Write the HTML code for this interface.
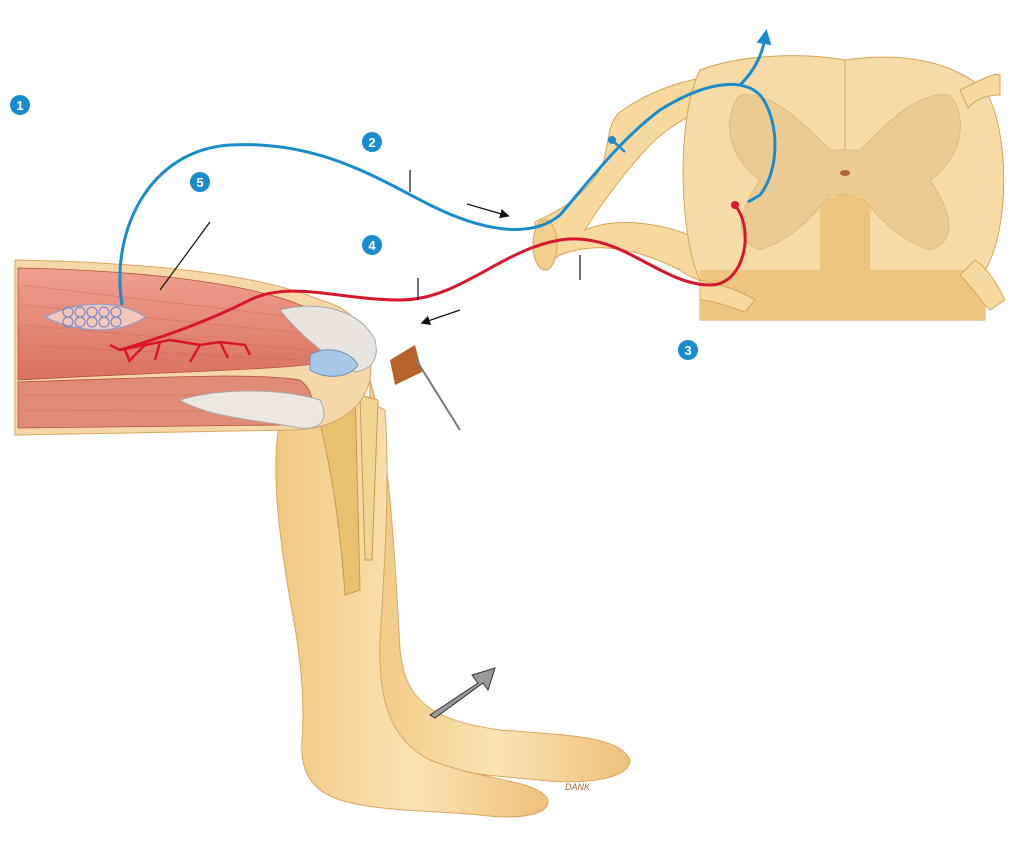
<!DOCTYPE html>
<html><head><meta charset="utf-8"><style>
html,body{margin:0;padding:0;background:#fff;}
svg{display:block;}
text{font-family:"Liberation Sans",sans-serif;}
</style></head><body>
<svg width="1024" height="845" viewBox="0 0 1024 845" xmlns="http://www.w3.org/2000/svg">
<defs>
<linearGradient id="leg" x1="0" x2="1" y1="0" y2="0">
<stop offset="0" stop-color="#f0c880"/><stop offset="0.5" stop-color="#fbe3b4"/><stop offset="1" stop-color="#eec07a"/></linearGradient>
<linearGradient id="mus" x1="0" x2="0" y1="0" y2="1">
<stop offset="0" stop-color="#f0a090"/><stop offset="1" stop-color="#d9705f"/></linearGradient>
<marker id="ah" markerWidth="8" markerHeight="8" refX="4" refY="4" orient="auto"><path d="M0,0 L8,4 L0,8 z" fill="#111"/></marker>
<marker id="bh" markerWidth="5" markerHeight="5" refX="2" refY="2.5" orient="auto"><path d="M0,0 L5,2.5 L0,5 z" fill="#1a8ccc"/></marker>
</defs>

<!-- Leg behind (second leg) -->
<path d="M370,380 C390,450 395,560 400,650 C405,700 430,720 500,730 C560,735 620,735 630,760 C630,780 580,785 540,780 C480,775 430,770 405,755 C380,740 372,720 365,690 Z" fill="url(#leg)" stroke="#d9a560" stroke-width="1"/>
<!-- Main lower leg -->
<path d="M280,420 C300,400 360,395 385,410 C390,480 385,560 380,640 C378,700 390,740 430,760 C480,780 540,780 548,800 C550,815 520,820 480,815 C430,810 380,812 340,800 C310,790 300,770 302,740 C305,700 300,650 290,600 C280,540 270,470 280,420 Z" fill="url(#leg)" stroke="#d9a560" stroke-width="1"/>
<path d="M312,390 L355,385 L360,590 L345,595 C340,520 330,460 312,390 Z" fill="#e9c070" stroke="#c89850"/>
<path d="M360,395 L378,400 L372,560 L365,560 Z" fill="#f3d592" stroke="#c89850"/>

<!-- Thigh muscles -->
<path d="M15,260 C120,262 250,270 320,300 C360,310 375,340 370,380 C360,420 320,430 290,430 L15,435 Z" fill="#f6d8a8" stroke="#d9a560"/>
<path d="M18,268 C120,270 240,280 300,305 C340,320 350,345 335,360 C300,370 200,370 18,380 Z" fill="url(#mus)" stroke="#b55040" stroke-width="0.8"/>
<path d="M18,382 C150,378 250,372 300,380 C320,395 315,420 280,425 L18,428 Z" fill="#e08a78" stroke="#b55040" stroke-width="0.8"/>
<g stroke="#c4604f" stroke-width="0.6" opacity="0.6">
<path d="M20,285 L320,320"/><path d="M20,305 L320,335"/><path d="M20,325 L310,350"/><path d="M20,345 L300,360"/><path d="M20,395 L300,395"/><path d="M20,410 L290,412"/>
</g>
<path d="M280,310 C320,300 360,310 375,340 C380,360 370,370 355,372 C330,360 300,335 280,310 Z" fill="#e8e4e0" stroke="#aaa"/>
<path d="M180,400 C220,388 280,388 320,400 C330,420 320,430 300,428 C260,420 210,418 180,400 Z" fill="#ebe8e4" stroke="#aaa"/>
<path d="M310,355 C325,345 350,350 358,365 C350,378 325,380 310,370 Z" fill="#a8c8e8" stroke="#7090b0"/>
<path d="M390,360 L415,345 L422,372 L395,385 Z" fill="#b8622a"/>
<path d="M415,358 L460,430" stroke="#777" stroke-width="2"/>
<path d="M45,317 C80,300 120,300 145,317 C120,334 80,334 45,317 Z" fill="#f4c7b8" stroke="#8aa0d8"/>
<g fill="none" stroke="#6a80d0" stroke-width="1"><circle cx="68" cy="312" r="5"/><circle cx="80" cy="312" r="5"/><circle cx="92" cy="312" r="5"/><circle cx="104" cy="312" r="5"/><circle cx="116" cy="312" r="5"/><circle cx="68" cy="322" r="5"/><circle cx="80" cy="322" r="5"/><circle cx="92" cy="322" r="5"/><circle cx="104" cy="322" r="5"/><circle cx="116" cy="322" r="5"/></g>

<!-- Spinal nerve -->
<path d="M535,222 C560,210 580,200 600,170 C610,150 605,125 620,112 C650,90 690,75 760,70 L760,100 C720,100 690,110 655,140 C630,165 600,205 585,230 C620,215 670,225 700,240 C720,255 740,270 760,275 L760,290 C730,290 700,285 680,270 C640,250 600,240 560,255 L540,268 Z" fill="#f7d9a0" stroke="#d4a455"/>
<ellipse cx="545" cy="245" rx="12" ry="25" fill="#f3cf8e" stroke="#d4a455"/>
<!-- Spinal cord -->
<path d="M700,70 C740,55 800,52 845,60 C900,52 950,60 985,90 C1010,130 1010,230 985,270 L985,320 L700,320 L700,280 C680,240 675,120 700,70 Z" fill="#f7dba6" stroke="#d4a455"/>
<path d="M700,270 L985,270 L985,320 L700,320 Z" fill="#edc57f"/>
<path d="M845,60 L845,200" stroke="#d4a455"/>
<path d="M820,210 C820,190 870,190 870,210 L870,270 L820,270 Z" fill="#edc57f"/>
<path d="M740,95 C770,90 800,120 830,150 L860,150 C890,120 920,90 950,95 C970,120 960,160 930,180 C950,210 960,240 930,250 C900,240 880,220 860,195 L830,195 C810,220 790,240 760,250 C730,240 740,210 760,180 C730,160 720,120 740,95 Z" fill="#ebcb92" stroke="#dbb470" stroke-width="0.8"/>
<ellipse cx="845" cy="173" rx="5" ry="3" fill="#b0623a"/>
<path d="M960,90 C980,80 995,72 1000,75 L1000,95 C985,95 975,100 968,108 Z" fill="#f7d9a0" stroke="#d4a455"/>
<path d="M975,260 C990,270 1000,290 1005,300 L990,310 C980,300 970,285 960,275 Z" fill="#f7d9a0" stroke="#d4a455"/>
<path d="M700,280 C720,285 740,290 755,300 L745,312 C725,305 710,300 700,300 Z" fill="#f7d9a0" stroke="#d4a455"/>

<!-- sensory neuron (blue) -->
<path d="M122,305 C110,230 150,150 230,145 C320,140 380,180 430,205 C480,230 530,240 560,215 C590,180 620,140 660,110 C700,85 740,75 760,95 C780,120 780,170 760,195 L748,202" fill="none" stroke="#1a8ccc" stroke-width="3"/>
<path d="M740,85 C755,70 762,55 765,38" fill="none" stroke="#1a8ccc" stroke-width="3" marker-end="url(#bh)"/>
<path d="M612,140 L625,152" stroke="#1a8ccc" stroke-width="2.5"/>
<circle cx="612" cy="140" r="4" fill="#1a8ccc"/>
<!-- motor neuron (red) -->
<path d="M735,205 C755,230 745,285 710,285 C660,285 620,230 560,240 C500,250 460,300 400,300 C340,300 290,280 250,300 C210,320 170,335 120,350" fill="none" stroke="#d8162c" stroke-width="3"/>
<circle cx="735" cy="205" r="4" fill="#d8162c"/>
<g fill="none" stroke="#d8162c" stroke-width="2.5">
<path d="M170,340 L145,345 L130,360"/><path d="M145,345 L120,350 L110,345"/><path d="M125,350 L130,362"/>
<path d="M170,340 L200,345 L220,342 L245,345 L250,355"/><path d="M200,345 L190,362"/><path d="M220,342 L228,358"/><path d="M160,342 L155,360"/>
</g>

<g stroke="#111" stroke-width="1.2">
<line x1="410" y1="170" x2="410" y2="192"/>
<line x1="210" y1="222" x2="160" y2="290"/>
<line x1="418" y1="278" x2="418" y2="300"/>
<line x1="580" y1="255" x2="580" y2="280"/>
<line x1="467" y1="204" x2="505" y2="215" marker-end="url(#ah)"/>
<line x1="460" y1="310" x2="425" y2="322" marker-end="url(#ah)"/>
</g>
<path d="M430,715 L478,683 L472,675 L495,668 L488,690 L483,683 L435,718 Z" fill="#999" stroke="#333"/>
<text x="565" y="790" font-size="9" font-style="italic" fill="#a06a30">DANK</text>

<g font-size="13" font-weight="bold" fill="#fff" text-anchor="middle">
<circle cx="20" cy="105" r="10" fill="#1a8ccc"/><text x="20" y="110">1</text>
<circle cx="372" cy="142" r="10" fill="#1a8ccc"/><text x="372" y="147">2</text>
<circle cx="688" cy="350" r="10" fill="#1a8ccc"/><text x="688" y="355">3</text>
<circle cx="372" cy="245" r="10" fill="#1a8ccc"/><text x="372" y="250">4</text>
<circle cx="200" cy="182" r="10" fill="#1a8ccc"/><text x="200" y="187">5</text>
</g>
</svg>
</body></html>
